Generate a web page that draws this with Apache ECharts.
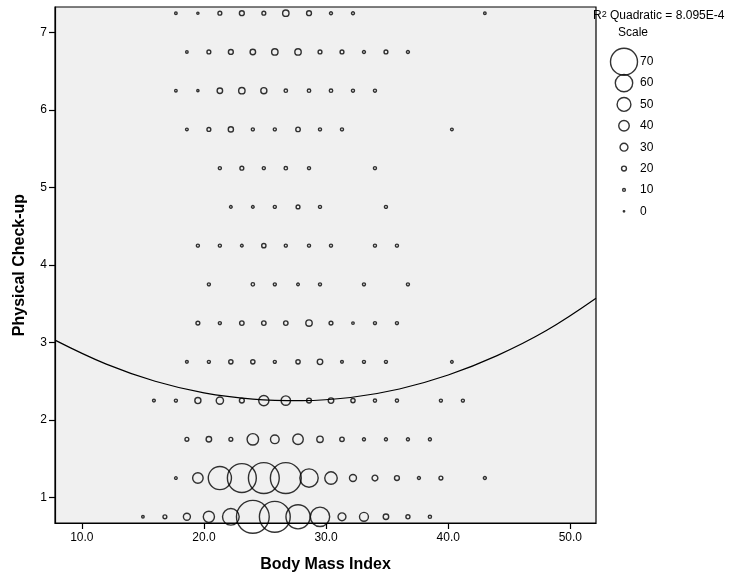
<!DOCTYPE html>
<html>
<head>
<meta charset="utf-8">
<title>Physical Check-up by Body Mass Index</title>
<script src="https://cdn.jsdelivr.net/npm/echarts@6.0.0/dist/echarts.min.js"></script>
<style>
  html, body { margin: 0; padding: 0; background: #fff; }
  #chart { width: 730px; height: 576px; }
</style>
</head>
<body>
<div id="chart"></div>
<script>
// BMI bin centres (hex binning: rows at .25 and .75 are shifted half a bin)
const bmiA = [15.9, 17.7, 19.5, 21.3, 23.1, 24.9, 26.7, 28.6, 30.4, 32.2, 34.0, 35.8, 37.6, 39.4, 41.2, 43.0];
const bmiB = [15.0, 16.8, 18.6, 20.4, 22.2, 24.0, 25.8, 27.7, 29.5, 31.3, 33.1, 34.9, 36.7, 38.5, 40.3];

const checkupA = [7.25, 6.25, 5.25, 4.25, 3.25, 2.25, 1.25];
const checkupB = [6.75, 5.75, 4.75, 3.75, 2.75, 1.75, 0.75];

const _ = null;
// counts per bin (null = empty bin)
const countsA = [
  [_, 8, 6, 15, 20, 15, 25, 20, 11, 11, _, _, _, _, _, 8],
  [_, 8, 6, 22, 25, 24, 13, 13, 13, 11, 11, _, _, _, _, _],
  [_, _, _, 11, 15, 11, 13, 11, _, _, 11, _, _, _, _, _],
  [_, _, 11, 11, 9, 17, 11, 11, 11, _, 11, 11, _, _, _, _],
  [_, _, 15, 11, 18, 18, 18, 25, 15, 8, 11, 11, _, _, _, _],
  [10, 11, 24, 28, 20, 39, 36, 20, 22, 17, 12, 12, _, 11, 11, _],
  [_, 9, 40, 66, 72, 74, 74, 61, 46, 27, 23, 20, 11, 15, _, 11]
];
const countsB = [
  [_, _, 8, 15, 20, 22, 25, 25, 15, 15, 11, 15, 11, _, _],
  [_, _, 9, 15, 21, 11, 11, 18, 11, 11, _, _, _, _, 9],
  [_, _, _, _, 9, 9, 11, 15, 11, _, _, 11, _, _, _],
  [_, _, _, 11, _, 13, 11, 9, 11, _, 11, _, 11, _, _],
  [_, _, 10, 11, 17, 17, 11, 17, 22, 10, 11, 11, _, _, 9],
  [_, _, 15, 22, 15, 43, 33, 40, 25, 18, 11, 11, 11, 11, _],
  [8, 15, 27, 42, 58, 76, 74, 67, 62, 30, 34, 22, 16, 12, _]
];

// quadratic fit line
const fitBmi = [7.8, 12, 16, 20, 24, 28, 32, 36, 40, 44, 48, 52.1];
const fitCheckup = [3.03, 2.72, 2.50, 2.35, 2.27, 2.25, 2.29, 2.40, 2.58, 2.83, 3.15, 3.57];

const xTicks = [10, 20, 30, 40, 50];
const yTicks = [1, 2, 3, 4, 5, 6, 7];
const scaleValues = [70, 60, 50, 40, 30, 20, 10, 0];

// count -> symbol diameter (matches the scale legend)
const sizeStops = [[0, 1.4], [10, 2.8], [20, 4.9], [30, 7.9], [40, 10.5], [50, 13.8], [60, 17.4], [70, 27]];
function bubbleSize(n) {
  for (let i = 1; i < sizeStops.length; i++) {
    if (n <= sizeStops[i][0] || i === sizeStops.length - 1) {
      const [c0, d0] = sizeStops[i - 1];
      const [c1, d1] = sizeStops[i];
      return d0 + (n - c0) * (d1 - d0) / (c1 - c0);
    }
  }
}

const points = [];
countsA.forEach((row, r) => row.forEach((n, k) => {
  if (n != null) points.push([bmiA[k], checkupA[r], n]);
}));
countsB.forEach((row, r) => row.forEach((n, k) => {
  if (n != null) points.push([bmiB[k], checkupB[r], n]);
}));

const font = "'Liberation Sans', Arial, sans-serif";
const ring = { color: 'rgba(0,0,0,0)', borderColor: '#000', borderWidth: 1.4 };

const chart = echarts.init(document.getElementById('chart'));
chart.setOption({
  animation: false,
  textStyle: { fontFamily: font, color: '#000' },
  title: [
    {
      text: 'R{s|2} Quadratic = 8.095E-4',
      left: 593, top: 10, padding: 0,
      textStyle: {
        fontSize: 12, fontWeight: 'normal', color: '#000', fontFamily: font,
        rich: { s: { fontSize: 9, verticalAlign: 'top', fontFamily: font, color: '#000' } }
      }
    },
    {
      text: 'Scale',
      left: 618, top: 27, padding: 0,
      textStyle: { fontSize: 12, fontWeight: 'normal', color: '#000', fontFamily: font }
    }
  ],
  grid: [
    {
      left: 55, right: 134, top: 7, bottom: 53,
      show: true, backgroundColor: '#f0f0f0', borderColor: '#000', borderWidth: 1.2,
      outerBoundsMode: 'none'
    },
    { left: 610, width: 28, top: 51, height: 171, outerBoundsMode: 'none' }
  ],
  xAxis: [
    {
      type: 'value', min: 7.8, max: 52.1,
      name: 'Body Mass Index', nameLocation: 'middle', nameGap: 34,
      nameTextStyle: { fontSize: 16, fontWeight: 'bold', color: '#000', fontFamily: font },
      axisLine: { lineStyle: { color: '#000', width: 1.2 } },
      axisTick: { length: 6, customValues: xTicks, lineStyle: { color: '#000', width: 1.2 } },
      axisLabel: {
        customValues: xTicks, formatter: v => v.toFixed(1),
        fontSize: 12, color: '#000', margin: 9, fontFamily: font
      },
      splitLine: { show: false }
    },
    { gridIndex: 1, type: 'value', min: -1, max: 1, show: false }
  ],
  yAxis: [
    {
      type: 'value', min: 0.67, max: 7.33,
      name: 'Physical Check-up', nameLocation: 'middle', nameGap: 27,
      nameTextStyle: { fontSize: 16, fontWeight: 'bold', color: '#000', fontFamily: font },
      axisLine: { lineStyle: { color: '#000', width: 1.2 } },
      axisTick: { length: 6, customValues: yTicks, lineStyle: { color: '#000', width: 1.2 } },
      axisLabel: { customValues: yTicks, fontSize: 12, color: '#000', margin: 8, fontFamily: font },
      splitLine: { show: false }
    },
    {
      gridIndex: 1, type: 'category', data: scaleValues.map(String), inverse: true,
      position: 'right',
      axisLine: { show: false }, axisTick: { show: false },
      axisLabel: { fontSize: 12, color: '#000', margin: 2, fontFamily: font }
    }
  ],
  series: [
    {
      type: 'scatter',
      data: points,
      symbolSize: v => bubbleSize(v[2]),
      itemStyle: ring,
      clip: true,
      silent: true
    },
    {
      type: 'line',
      data: fitBmi.map((x, i) => [x, fitCheckup[i]]),
      smooth: 0.4,
      showSymbol: false,
      lineStyle: { color: '#000', width: 1.2 },
      clip: true,
      silent: true
    },
    {
      type: 'scatter',
      xAxisIndex: 1, yAxisIndex: 1,
      data: scaleValues.map((v, i) => [0, i, v]),
      symbolSize: v => bubbleSize(v[2]),
      itemStyle: ring,
      clip: false,
      silent: true
    }
  ]
});
</script>
</body>
</html>
